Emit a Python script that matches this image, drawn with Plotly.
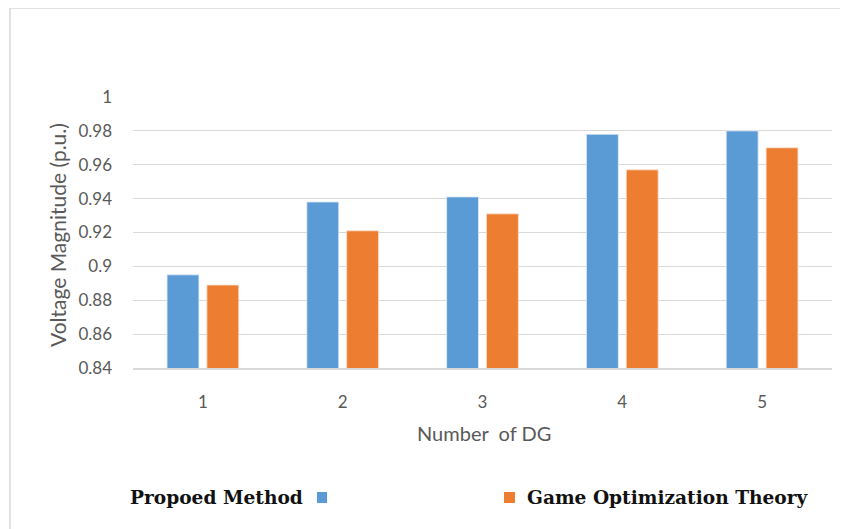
import plotly.graph_objects as go

categories = ["1", "2", "3", "4", "5"]
proposed = [0.895, 0.938, 0.941, 0.978, 0.980]
game_theory = [0.889, 0.921, 0.931, 0.957, 0.970]
series_names = ["Propoed Method", "Game Optimization Theory"]
y_ticks = [0.84, 0.86, 0.88, 0.9, 0.92, 0.94, 0.96, 0.98, 1.0]
y_tick_text = ["0.84", "0.86", "0.88", "0.9", "0.92", "0.94", "0.96", "0.98", "1"]

# page body has an 8px margin; figure is sized to fill the rest of the window
OFF = 8
VW, VH = 848, 529
W, H = VW - OFF, VH - OFF
# plot area in window pixels: x 133..832, y 97..368
L, R, T, B = 133 - OFF, VW - 832, 97 - OFF, VH - 368
pw, ph = W - L - R, H - T - B

def px(x):
    return (x - OFF - L) / pw

def py(y):
    return (VH - B - y) / ph

BLUE = "#5B9BD5"
ORANGE = "#ED7D31"
GREY = "#595959"

fig = go.Figure()
fig.add_trace(go.Bar(x=categories, y=proposed, name=series_names[0],
                     marker=dict(color=BLUE, line=dict(color="#dfeaf6", width=0.8))))
fig.add_trace(go.Bar(x=categories, y=game_theory, name=series_names[1],
                     marker=dict(color=ORANGE, line=dict(color="#fbe3d3", width=0.8))))

fig.update_layout(
    width=W, height=H,
    margin=dict(l=L, r=R, t=T, b=B, autoexpand=False),
    paper_bgcolor="white", plot_bgcolor="white",
    barmode="group", bargap=0.43, bargroupgap=0.2,
    showlegend=False,
    font=dict(family="Lato, 'Open Sans', sans-serif", color=GREY),
)
fig.update_xaxes(
    showgrid=False, showline=True, linecolor="#D9D9D9", linewidth=1.5,
    tickfont=dict(size=17, color=GREY), ticks="", ticklabelstandoff=18,
)
fig.update_yaxes(
    range=[0.84, 1.0], tickvals=y_ticks, ticktext=y_tick_text,
    showgrid=True, gridcolor="#D9D9D9", gridwidth=1.2,
    zeroline=False, showline=False, ticks="", ticklabelstandoff=20,
    tickfont=dict(size=17, color=GREY),
)

# outer chart border
fig.add_shape(type="rect", xref="paper", yref="paper",
              x0=px(10), x1=px(VW + 20), y0=py(VH + 20), y1=py(8),
              line=dict(color="#D9D9D9", width=1.5), fillcolor="rgba(0,0,0,0)", layer="below")

# axis titles
fig.add_annotation(text="Number  of DG", xref="paper", yref="paper",
                   x=px(484), y=py(433), showarrow=False,
                   font=dict(size=20, color=GREY), xanchor="center", yanchor="middle")
fig.add_annotation(text="Voltage Magnitude (p.u.)", xref="paper", yref="paper",
                   x=px(57), y=py(235), showarrow=False, textangle=-90,
                   font=dict(size=21, color=GREY), xanchor="center", yanchor="middle")

# custom legend
legend_font = dict(family="'DejaVu Serif', 'Liberation Serif', serif", size=18.6, color="#111111")
fig.add_annotation(text="<b>" + series_names[0] + "</b>", xref="paper", yref="paper",
                   x=px(128), y=py(497), showarrow=False, xanchor="left", yanchor="middle",
                   font=legend_font)
fig.add_shape(type="rect", xref="paper", yref="paper",
              x0=px(317), x1=px(327), y0=py(503), y1=py(492),
              fillcolor=BLUE, line=dict(width=0))
fig.add_shape(type="rect", xref="paper", yref="paper",
              x0=px(504), x1=px(515), y0=py(503), y1=py(492),
              fillcolor=ORANGE, line=dict(width=0))
fig.add_annotation(text="<b>" + series_names[1] + "</b>", xref="paper", yref="paper",
                   x=px(525), y=py(497), showarrow=False, xanchor="left", yanchor="middle",
                   font=legend_font)

fig.write_html("out.html")
